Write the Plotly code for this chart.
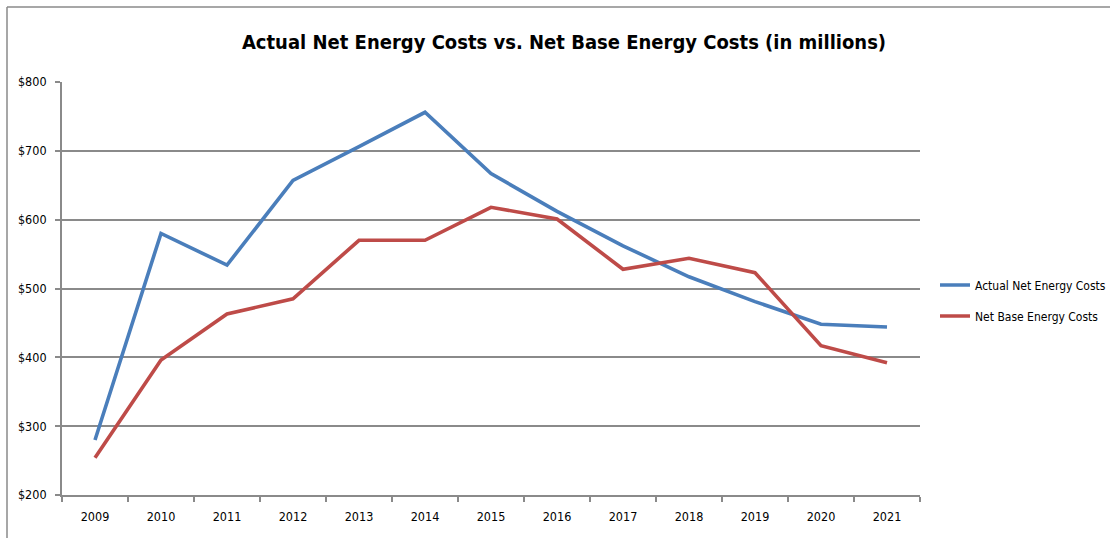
import plotly.graph_objects as go

years = ["2009", "2010", "2011", "2012", "2013", "2014", "2015", "2016", "2017", "2018", "2019", "2020", "2021"]
actual_net = [280, 580, 534, 657, 706, 756, 667, 612, 562, 517, 481, 448, 444]
net_base = [254, 396, 463, 485, 570, 570, 618, 601, 528, 544, 523, 417, 392]

FONT = "Liberation Sans Narrow, DejaVu Sans Condensed, Arial Narrow, sans-serif"
GRID = "#8a8a8a"

L, R, T, B = 62, 920, 82, 495
W, H = 1110, 538

def px_x(p):
    return (p - L) / (R - L)

def px_y(p):
    return (B - p) / (B - T)

fig = go.Figure()
fig.add_trace(go.Scatter(x=years, y=actual_net, mode="lines", name="Actual Net Energy Costs",
                         line=dict(color="#4A7EBB", width=3.6), legend="legend"))
fig.add_trace(go.Scatter(x=years, y=net_base, mode="lines", name="Net Base Energy Costs",
                         line=dict(color="#BE4B48", width=3.6), legend="legend2"))

leg_common = dict(xanchor="left", yanchor="middle", bgcolor="rgba(0,0,0,0)",
                  font=dict(family=FONT, size=12, color="#000000"), itemwidth=30)

fig.update_layout(
    width=W, height=H,
    margin=dict(l=L, r=W - R, t=T, b=H - B, autoexpand=False),
    paper_bgcolor="white", plot_bgcolor="white",
    font=dict(family=FONT, size=12.5, color="#000000"),
    title=dict(text="<b>Actual Net Energy Costs vs. Net Base Energy Costs (in millions)</b>",
               x=px_x(564), xanchor="center", xref="paper", y=1 - 42 / H, yanchor="middle",
               font=dict(family=FONT, size=20, color="#000000")),
    showlegend=True,
    legend=dict(x=px_x(935), y=px_y(285), **leg_common),
    legend2=dict(x=px_x(935), y=px_y(316), **leg_common),
    xaxis=dict(type="category", showgrid=False, showline=True, linecolor=GRID, linewidth=1.8,
               ticks="outside", tickson="boundaries", ticklen=5, tickcolor=GRID, tickwidth=1.5,
               ticklabelstandoff=9,
               tickfont=dict(family=FONT, size=12.5), range=[-0.5, 12.5], fixedrange=True),
    yaxis=dict(range=[200, 800], dtick=100, tickprefix="$", showgrid=True, gridcolor=GRID,
               gridwidth=1.8, showline=True, linecolor=GRID, linewidth=1.8, ticks="outside",
               ticklen=5, tickcolor=GRID, tickwidth=1.5, ticklabelstandoff=6,
               tickfont=dict(family=FONT, size=12.5),
               zeroline=False, fixedrange=True),
)

# outer chart-area border (top and left edges visible)
fig.add_shape(type="line", xref="paper", yref="paper", x0=px_x(7), x1=px_x(1112),
              y0=px_y(7), y1=px_y(7), line=dict(color=GRID, width=1.5))
fig.add_shape(type="line", xref="paper", yref="paper", x0=px_x(7), x1=px_x(7),
              y0=px_y(7), y1=px_y(540), line=dict(color=GRID, width=1.5))

fig.write_html("out.html")
